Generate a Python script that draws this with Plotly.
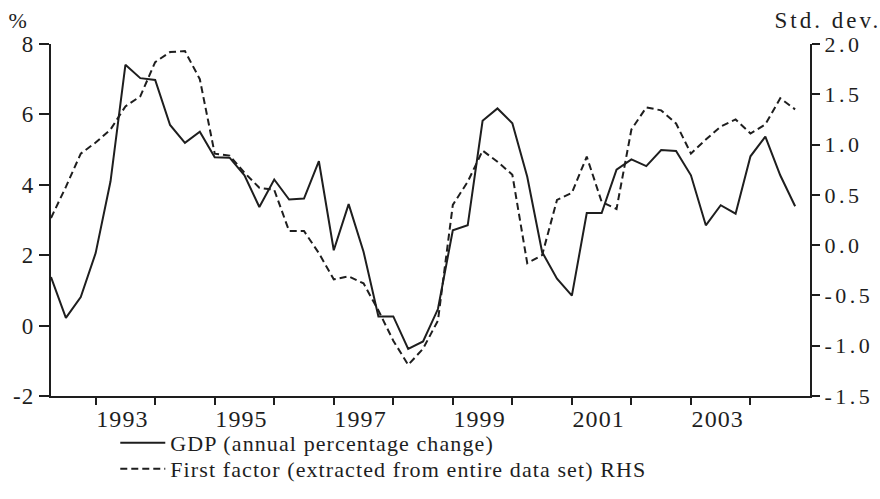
import pandas as pd
import plotly.graph_objects as go

# Quarterly observations, 1992Q2 - 2004Q4
quarters = pd.period_range("1992Q2", "2004Q4", freq="Q")
x_years = [p.year + (p.quarter - 1) / 4 for p in quarters]

gdp = [1.38, 0.22, 0.81, 2.06, 4.1, 7.41, 7.03, 6.98, 5.70, 5.19, 5.51, 4.78, 4.77,
       4.27, 3.37, 4.15, 3.58, 3.61, 4.67, 2.14, 3.45, 2.1, 0.26, 0.26, -0.66, -0.45,
       0.47, 2.71, 2.85, 5.82, 6.17, 5.75, 4.23, 2.09, 1.33, 0.85, 3.20, 3.20, 4.43,
       4.72, 4.53, 4.99, 4.96, 4.27, 2.85, 3.42, 3.18, 4.81, 5.37, 4.27, 3.39]

factor = [0.27, 0.58, 0.91, 1.02, 1.15, 1.38, 1.48, 1.82, 1.92, 1.93, 1.65, 0.91, 0.89,
          0.72, 0.57, 0.55, 0.14, 0.14, -0.08, -0.34, -0.31, -0.38, -0.65, -0.95, -1.19,
          -1.03, -0.75, 0.40, 0.63, 0.94, 0.83, 0.70, -0.18, -0.10, 0.45, 0.52, 0.88,
          0.43, 0.36, 1.15, 1.37, 1.34, 1.21, 0.91, 1.05, 1.18, 1.25, 1.11, 1.20, 1.46, 1.35]

label_years = [1993, 1995, 1997, 1999, 2001, 2003]
tick_years = list(range(1993, 2005))
left_ticks = [-2, 0, 2, 4, 6, 8]
right_ticks = [-1.5, -1.0, -0.5, 0.0, 0.5, 1.0, 1.5, 2.0]

FONT = "Liberation Serif, Times New Roman, serif"
INK = "#1e1e1e"

fig = go.Figure()
fig.add_trace(go.Scatter(x=x_years, y=gdp, mode="lines",
                         name="GDP (annual percentage change)", legend="legend",
                         line=dict(color=INK, width=2)))
fig.add_trace(go.Scatter(x=x_years, y=factor, mode="lines", yaxis="y2",
                         name="First factor (extracted from entire data set) RHS",
                         legend="legend2",
                         line=dict(color=INK, width=2, dash="7px,4px")))

leg_common = dict(xref="container", yref="container", x=0.131,
                  xanchor="left", yanchor="middle",
                  font=dict(size=22, family=FONT, color=INK),
                  bgcolor="rgba(0,0,0,0)", itemwidth=45)

fig.update_layout(
    width=880, height=499, autosize=False,
    margin=dict(l=51, r=70, t=44, b=103, autoexpand=False),
    paper_bgcolor="white", plot_bgcolor="white",
    font=dict(family=FONT, size=23, color=INK),
    showlegend=True,
    legend=dict(y=1 - 443 / 499, **leg_common),
    legend2=dict(y=1 - 469 / 499, **leg_common),
    xaxis=dict(range=[1992.25, 2005], showgrid=False, zeroline=False, automargin=False,
               showline=True, linecolor=INK, linewidth=2,
               tickmode="array", tickvals=[y + 0.45 for y in label_years],
               ticktext=[str(y) for y in label_years],
               ticks="outside", ticklen=0, tickcolor="rgba(0,0,0,0)",
               tickfont=dict(size=24, family=FONT, color=INK),
               minor=dict(tickmode="array", tickvals=tick_years, ticks="outside",
                          ticklen=7, tickwidth=2, tickcolor=INK, showgrid=False)),
    yaxis=dict(range=[-2, 8], tickmode="array", tickvals=left_ticks,
               ticktext=[str(v) for v in left_ticks], automargin=False,
               showgrid=False, zeroline=False, showline=True, linecolor=INK,
               linewidth=2, ticks="outside", ticklen=10, tickwidth=2, tickcolor=INK,
               tickfont=dict(size=23, family=FONT, color=INK)),
    yaxis2=dict(range=[-1.5, 2.0], overlaying="y", side="right", automargin=False,
                tickmode="array", tickvals=right_ticks,
                ticktext=[f"{v:.1f}" for v in right_ticks],
                showgrid=False, zeroline=False, showline=True, linecolor=INK,
                linewidth=2, ticks="outside", ticklen=8, tickwidth=2, tickcolor=INK,
                tickfont=dict(size=22, family=FONT, color=INK)),
    annotations=[
        dict(text="%", xref="paper", yref="paper", x=-0.058, y=1.068,
             xanchor="left", yanchor="middle", showarrow=False,
             font=dict(size=22, family=FONT, color=INK)),
        dict(text="Std. dev.", xref="paper", yref="paper", x=0.968, y=1.068,
             xanchor="left", yanchor="middle", showarrow=False,
             font=dict(size=23, family=FONT, color=INK)),
    ],
)

post = """
document.body.style.margin = '0';
document.body.style.padding = '0';
var gd = document.getElementById('{plot_id}');
function spacing(){
  gd.querySelectorAll('text').forEach(function(t){ t.style.letterSpacing='1.1px'; });
  gd.querySelectorAll('.y2tick text').forEach(function(t){ t.style.letterSpacing='3.5px'; });
  gd.querySelectorAll('.annotation text').forEach(function(t){
    if (t.textContent.indexOf('Std') === 0) { t.style.letterSpacing='3px'; }
  });
  gd.querySelectorAll('[class^="legend"] [clip-path]').forEach(function(e){
    e.removeAttribute('clip-path');
  });
}
spacing();
gd.on('plotly_afterplot', spacing);
"""

fig.write_html("out.html", post_script=post, config={"displayModeBar": False})
